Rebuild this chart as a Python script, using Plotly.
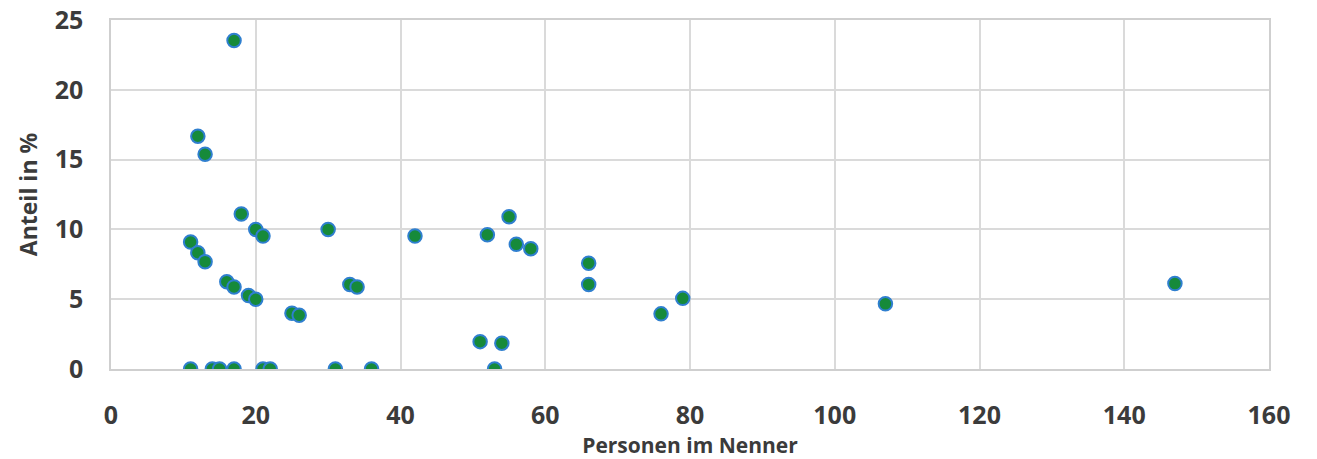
import plotly.graph_objects as go

# Personen im Nenner (x) und Anteil in % (y)
personen = [17, 12, 13, 18, 20, 21, 11, 12, 13, 16, 17, 19, 20, 25, 26,
            30, 33, 34, 42, 52, 55, 56, 58, 66, 66, 76, 79, 107, 147,
            51, 54, 53, 11, 14, 15, 17, 21, 22, 31, 36]
anteil = [23.53, 16.67, 15.38, 11.11, 10.00, 9.52, 9.09, 8.33, 7.69, 6.25,
          5.88, 5.26, 5.00, 4.00, 3.85, 10.00, 6.06, 5.88, 9.52, 9.62,
          10.91, 8.93, 8.62, 7.58, 6.06, 3.95, 5.06, 4.67, 6.12,
          1.96, 1.85, 0.0, 0.0, 0.0, 0.0, 0.0, 0.0, 0.0, 0.0, 0.0]

x_ticks = [0, 20, 40, 60, 80, 100, 120, 140, 160]
y_ticks = [0, 5, 10, 15, 20, 25]

text_col = "#3b3b3b"
grid_col = "#dadada"
tick_font = dict(family="Open Sans, sans-serif", size=25, color=text_col,
                 weight="bold")
x_title_font = dict(family="Open Sans, sans-serif", size=21, color=text_col,
                    weight="bold")
y_title_font = dict(family="Open Sans, sans-serif", size=23, color=text_col,
                    weight="bold")

fig = go.Figure(go.Scatter(
    x=personen, y=anteil, mode="markers",
    marker=dict(size=13.5, color="#168a3a",
                line=dict(color="#2f7fcf", width=2)),
    showlegend=False,
))

fig.update_xaxes(
    range=[0, 160], tickvals=x_ticks, ticktext=[str(v) for v in x_ticks],
    showgrid=True, gridcolor=grid_col, gridwidth=1.5,
    showline=True, linecolor="#cfcfcf", linewidth=1.5, mirror=True,
    zeroline=False, ticks="", tickfont=tick_font, ticklabelstandoff=23,
    automargin=False,
    title=dict(text="Personen im Nenner", font=x_title_font, standoff=20),
)
fig.update_yaxes(
    range=[0, 25], tickvals=y_ticks, ticktext=[str(v) for v in y_ticks],
    showgrid=True, gridcolor=grid_col, gridwidth=1.5,
    showline=True, linecolor="#cfcfcf", linewidth=1.5, mirror=True,
    zeroline=False, ticks="", tickfont=tick_font, ticklabelstandoff=21,
    automargin=False,
    title=dict(text="Anteil in %", font=y_title_font, standoff=11),
)

fig.update_layout(
    width=1317, height=459,
    margin=dict(l=111, r=48, t=20, b=90),
    paper_bgcolor="white", plot_bgcolor="white",
)

fig.write_html("out.html")
